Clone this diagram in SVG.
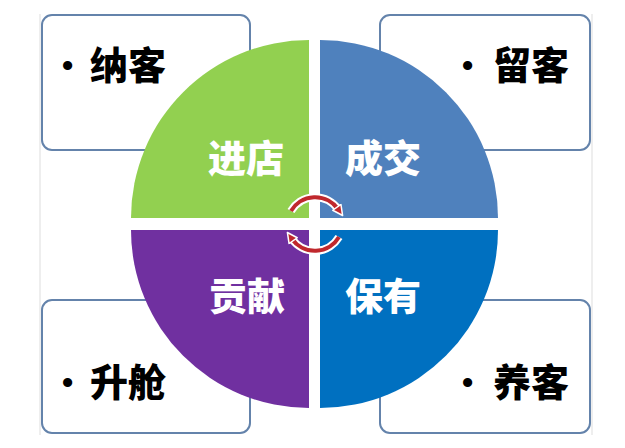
<svg xmlns="http://www.w3.org/2000/svg" width="625" height="448" viewBox="0 0 625 448">
<style>
.box{fill:#ffffff;stroke:#6483ab;stroke-width:2}
.bt{font-family:"Noto Sans CJK SC","Noto Sans CJK JP",sans-serif;font-weight:900;font-size:38px;fill:#000000}
.bul{font-family:"Liberation Sans",Arial,sans-serif;font-size:32px;font-weight:700}
.qt{font-family:"Noto Sans CJK SC","Noto Sans CJK JP",sans-serif;font-weight:900;font-size:38px;fill:#ffffff;text-anchor:middle}
.halo{fill:none;stroke:#ffffff;stroke-width:8}
.arc{fill:none;stroke:#c0282d;stroke-width:4}
.edge{stroke:#dddddd;stroke-width:1}
</style>
<defs>
<marker id="ah" markerUnits="userSpaceOnUse" markerWidth="14" markerHeight="14" refX="3" refY="6" orient="auto" viewBox="0 0 14 12">
<path d="M1,1 L11,6 L1,11 Z" fill="#c0282d" stroke="#ffffff" stroke-width="1.5" stroke-linejoin="round"/>
</marker>
</defs>
<rect width="625" height="448" fill="#ffffff"/>
<g id="frame">
<line class="edge" x1="40" y1="14" x2="40" y2="435"/>
<line class="edge" x1="592" y1="14" x2="592" y2="435"/>
</g>
<g id="box-naike">
<rect class="box" x="42" y="15" width="208" height="135" rx="10"/>
<text class="bt" x="62" y="79"><tspan class="bul" dy="-3">•</tspan><tspan x="90" dy="3">纳客</tspan></text>
</g>
<g id="box-liuke">
<rect class="box" x="380" y="15" width="210" height="135" rx="10"/>
<text class="bt" x="462" y="79"><tspan class="bul" dy="-3">•</tspan><tspan x="493" dy="3">留客</tspan></text>
</g>
<g id="box-shengcang">
<rect class="box" x="42" y="300" width="208" height="133" rx="10"/>
<text class="bt" x="62" y="396"><tspan class="bul" dy="-3">•</tspan><tspan x="90" dy="3">升舱</tspan></text>
</g>
<g id="box-yangke">
<rect class="box" x="380" y="300" width="210" height="133" rx="10"/>
<text class="bt" x="462" y="396"><tspan class="bul" dy="-3">•</tspan><tspan x="493" dy="3">养客</tspan></text>
</g>
<g id="q-jindian">
<path d="M309,218 L131,218 A178,178 0 0 1 309,40 Z" fill="#92d050"/>
<text class="qt" x="246" y="172">进店</text>
</g>
<g id="q-chengjiao">
<path d="M320,218 L320,40 A178,178 0 0 1 498,218 Z" fill="#4f81bd"/>
<text class="qt" x="383" y="172">成交</text>
</g>
<g id="q-gongxian">
<path d="M309,230 L309,408 A178,178 0 0 1 131,230 Z" fill="#7030a0"/>
<text class="qt" x="247" y="310">贡献</text>
</g>
<g id="q-baoyou">
<path d="M320,230 L498,230 A178,178 0 0 1 320,408 Z" fill="#0070c0"/>
<text class="qt" x="383" y="310">保有</text>
</g>
<g id="connectors">
<path class="halo" d="M291,211 A28,28 0 0 1 338,209"/>
<path class="arc" d="M291,211 A28,28 0 0 1 338,209" marker-end="url(#ah)"/>
<path class="halo" d="M339,237 A28,28 0 0 1 292,239"/>
<path class="arc" d="M339,237 A28,28 0 0 1 292,239" marker-end="url(#ah)"/>
</g>
</svg>
